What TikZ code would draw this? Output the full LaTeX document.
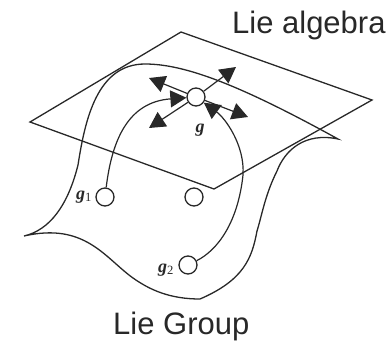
\documentclass[tikz,border=0pt]{standalone}
\usepackage{xcolor}
\usepackage{fontspec}
\setmainfont{Liberation Sans}
\newfontfamily\labelfont{Liberation Serif}
\usetikzlibrary{arrows.meta}
\definecolor{mydark}{RGB}{40,40,40}
\tikzset{
  sheet/.style={draw=mydark, line width=1.3pt, line join=miter},
  point/.style={circle, draw=mydark, fill=white, line width=1.3pt, minimum size=18pt, inner sep=0pt},
  arrow/.style={-{Triangle[length=16pt,width=17pt]}, line width=1.2pt, color=mydark},
  title/.style={font=\fontsize{31}{31}\selectfont, text=mydark, inner sep=0pt},
  element/.style={font=\labelfont\bfseries\itshape\fontsize{18}{18}\selectfont, text=mydark, inner sep=0pt}
}
\begin{document}
\begin{tikzpicture}[x=1pt, y=-1pt]
  \useasboundingbox (0,0) rectangle (391,343);

  % Tangent plane
  \draw[sheet] (181,32) -- (372,100) -- (214,189) -- (30,122) -- cycle;

  % Group surface
  \draw[sheet] (24,236) .. controls (50,230) and (68,205) .. (78,165)
    .. controls (85,120) and (97,64) .. (145,64)
    .. controls (185,64) and (240,85) .. (338,139)
    .. controls (305,132) and (285,150) .. (277,171)
    .. controls (265,195) and (262,215) .. (257,231)
    .. controls (252,258) and (244,280) .. (200,299)
    .. controls (170,299) and (150,290) .. (133,278)
    .. controls (105,258) and (85,222) .. (24,236);

  % Points
  \node[point] (g) at (196,97) {};
  \node[point] (gone) at (105,197) {};
  \node[point] (gmid) at (194,197) {};
  \node[point] (gtwo) at (188,265) {};

  \node[element] (glabel) at (200,130) {g};
  \node[element, anchor=base east] (gonelabel) at (92,199) {g\textsubscript{\mdseries\upshape 1}};
  \node[element, anchor=base east] (gtwolabel) at (174,272) {g\textsubscript{\mdseries\upshape 2}};

  % Curves into g
  \draw[arrow] (gone) .. controls (112,140) and (128,102) .. (g);
  \draw[arrow] (gtwo) .. controls (218,250) and (238,222) .. (243,175)
    .. controls (245,145) and (225,118) .. (g);

  % Tangent vectors
  \coordinate (tipa) at (149,78);
  \coordinate (tipb) at (236,67);
  \coordinate (tipc) at (149,128);
  \coordinate (tipd) at (248,117);
  \draw[arrow] (g) -- (tipa);
  \draw[arrow] (g) -- (tipb);
  \draw[arrow] (g) -- (tipc);
  \draw[arrow] (g) -- (tipd);

  % Names
  \node[title, anchor=base west] (algebra) at (232,33) {Lie algebra};
  \node[title, anchor=base west] (group) at (113,334) {Lie Group};
\end{tikzpicture}
\end{document}
